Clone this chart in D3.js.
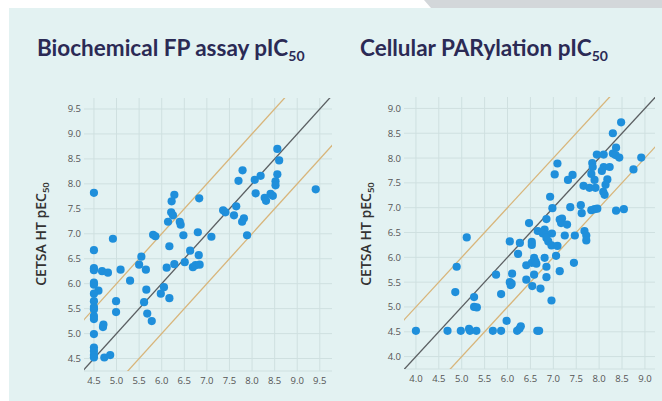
<!DOCTYPE html>
<html lang="en">
    <head>
        <meta charset="utf-8">
        <title>CETSA HT vs pIC50</title>
        <script type="text/javascript" src="https://cdn.jsdelivr.net/npm/d3@7"></script>
        <style type="text/css">
            body { margin: 0; background: #ffffff; }
        </style>
    </head>

    <body>
        <script type="text/javascript">
            // Left panel: biochemical FP assay pIC50 (x) vs CETSA HT pEC50 (y)
            var fpPoints = [
                [4.5,7.82],[8.56,8.70],[8.60,8.47],[8.56,8.19],[8.52,8.05],[8.52,7.97],[7.79,8.27],[7.70,8.06],
                [8.06,8.08],[8.19,8.16],[8.08,7.81],[8.28,7.72],[8.31,7.66],[8.41,7.80],[8.46,7.76],[9.41,7.89],
                [6.28,7.78],[6.22,7.65],[6.83,7.71],[6.21,7.43],[6.25,7.37],[6.14,7.24],[6.40,7.24],[6.42,7.18],
                [7.36,7.47],[7.41,7.43],[7.65,7.55],[7.60,7.37],[7.82,7.31],[7.78,7.24],[5.81,6.98],[5.86,6.95],
                [6.48,6.97],[6.80,7.03],[7.10,6.94],[7.89,6.97],[4.92,6.90],[4.5,6.67],[6.17,6.75],[5.55,6.54],
                [5.50,6.38],[5.65,6.28],[6.11,6.32],[6.28,6.39],[6.51,6.43],[6.63,6.66],[6.82,6.57],[6.69,6.33],
                [6.75,6.37],[6.84,6.38],[4.5,6.31],[4.5,6.27],[4.68,6.25],[4.81,6.22],[5.09,6.28],[5.30,6.06],
                [4.5,6.02],[4.5,5.98],[4.60,5.86],[4.5,5.80],[5.66,5.88],[6.05,5.93],[5.98,5.80],[6.17,5.71],
                [5.61,5.63],[4.5,5.65],[4.99,5.65],[4.5,5.53],[4.5,5.48],[4.99,5.43],[5.68,5.40],[4.5,5.35],
                [4.5,5.29],[5.78,5.25],[4.71,5.18],[4.70,5.13],[4.5,4.99],[4.5,4.72],[4.5,4.65],[4.5,4.57],
                [4.5,4.52],[4.73,4.52],[4.86,4.57]
            ];

            // Right panel: cellular PARylation pIC50 (x) vs CETSA HT pEC50 (y)
            var parPoints = [
                [8.48,8.72],[8.30,8.50],[8.37,8.21],[8.30,8.09],[8.36,8.06],[8.44,8.01],[7.95,8.07],[8.10,8.07],
                [8.92,8.01],[8.75,7.77],[7.85,7.90],[7.86,7.82],[7.09,7.89],[7.03,7.67],[7.42,7.66],[7.32,7.56],
                [7.83,7.68],[8.10,7.82],[8.23,7.82],[8.06,7.74],[8.18,7.57],[7.90,7.56],[8.14,7.46],[7.66,7.44],
                [7.79,7.40],[7.92,7.40],[8.09,7.32],[8.12,7.26],[6.93,7.22],[6.98,6.99],[7.37,7.01],[7.60,7.05],
                [7.62,6.89],[7.83,6.95],[7.90,6.97],[7.96,6.98],[8.37,6.94],[8.54,6.97],[6.47,6.69],[6.85,6.77],
                [7.14,6.76],[7.19,6.78],[7.17,6.69],[7.30,6.66],[6.66,6.53],[6.81,6.56],[6.77,6.48],[6.85,6.46],
                [6.97,6.48],[7.25,6.44],[7.47,6.44],[7.68,6.53],[7.72,6.44],[7.72,6.34],[5.11,6.40],[6.05,6.32],
                [6.27,6.29],[6.53,6.31],[6.53,6.25],[6.89,6.32],[6.96,6.24],[7.09,6.23],[6.85,6.39],[6.23,6.07],
                [6.41,5.84],[6.53,5.89],[6.58,5.99],[6.61,5.92],[6.63,5.87],[6.81,5.99],[7.06,6.03],[6.85,5.81],
                [7.45,5.89],[7.14,5.72],[6.58,5.65],[6.85,5.60],[6.72,5.37],[6.96,5.13],[4.89,5.81],[5.75,5.65],
                [6.10,5.67],[6.05,5.50],[6.09,5.47],[6.07,5.44],[6.41,5.55],[6.54,5.42],[4.86,5.30],[5.86,5.26],
                [5.27,5.20],[5.27,5.00],[5.33,4.99],[5.98,4.72],[4.00,4.52],[4.69,4.52],[4.98,4.52],[5.16,4.56],
                [5.18,4.52],[5.32,4.52],[5.68,4.52],[5.86,4.52],[6.21,4.52],[6.26,4.56],[6.29,4.61],[6.65,4.52],
                [6.69,4.52]
            ];

            var fpTicks = [4.5, 5.0, 5.5, 6.0, 6.5, 7.0, 7.5, 8.0, 8.5, 9.0, 9.5];
            var parTicks = [4.0, 4.5, 5.0, 5.5, 6.0, 6.5, 7.0, 7.5, 8.0, 8.5, 9.0];
            var fpTitle = "Biochemical FP assay pIC";
            var parTitle = "Cellular PARylation pIC";
            var yTitle = "CETSA HT pEC";

            var w = 662;
            var h = 401;
            var bg = "#e3f2f2";
            var gridColor = "#cfe0e0";
            var dotColor = "#1f8fdb";

            var svg = d3.select("body")
                        .append("svg")
                        .attr("width", w)
                        .attr("height", h);

            // page background panel + grey tab top right
            svg.append("rect")
                .attr("x", 9).attr("y", 8)
                .attr("width", w - 9).attr("height", h - 8)
                .attr("fill", bg);
            svg.append("polygon")
                .attr("points", "424,0 662,0 662,8 431,8")
                .attr("fill", "#d3d7da");

            function drawPanel(id, points, ticks, title, box, xDomain, yDomain, titleX, labelX) {
                var xScale = d3.scaleLinear().domain(xDomain).range([box.x0, box.x1]);
                var yScale = d3.scaleLinear().domain(yDomain).range([box.y1, box.y0]);

                var g = svg.append("g");

                // title with subscript
                var t = g.append("text")
                    .attr("x", titleX)
                    .attr("y", 56)
                    .attr("font-family", "Lato, sans-serif")
                    .attr("font-weight", 700)
                    .attr("font-size", "22.5px")
                    .attr("fill", "#2b2a55");
                t.append("tspan").text(title);
                t.append("tspan").attr("dy", 5).attr("font-size", "14px").text("50");

                // grid
                g.selectAll(".vgrid")
                    .data(ticks)
                    .enter()
                    .append("line")
                    .attr("x1", function(d) { return xScale(d); })
                    .attr("x2", function(d) { return xScale(d); })
                    .attr("y1", box.y0)
                    .attr("y2", box.y1)
                    .attr("stroke", gridColor)
                    .attr("stroke-width", 1);
                g.selectAll(".hgrid")
                    .data(ticks)
                    .enter()
                    .append("line")
                    .attr("x1", box.x0)
                    .attr("x2", box.x1)
                    .attr("y1", function(d) { return yScale(d); })
                    .attr("y2", function(d) { return yScale(d); })
                    .attr("stroke", gridColor)
                    .attr("stroke-width", 1);
                g.append("line")
                    .attr("x1", box.x0).attr("x2", box.x1)
                    .attr("y1", box.y1).attr("y2", box.y1)
                    .attr("stroke", gridColor);

                // tick labels
                var fmt = d3.format(".1f");
                g.selectAll(".xlab")
                    .data(ticks)
                    .enter()
                    .append("text")
                    .text(function(d) { return fmt(d); })
                    .attr("x", function(d) { return xScale(d); })
                    .attr("y", box.y1 + 13)
                    .attr("text-anchor", "middle")
                    .attr("font-family", "Open Sans, sans-serif")
                    .attr("font-size", "9.5px")
                    .attr("fill", "#555");
                g.selectAll(".ylab")
                    .data(ticks)
                    .enter()
                    .append("text")
                    .text(function(d) { return fmt(d); })
                    .attr("x", box.x0 - 3)
                    .attr("y", function(d) { return yScale(d) + 3.5; })
                    .attr("text-anchor", "end")
                    .attr("font-family", "Open Sans, sans-serif")
                    .attr("font-size", "9.5px")
                    .attr("fill", "#555");

                // y axis title, rotated
                var yt = g.append("text")
                    .attr("transform", "translate(" + labelX + "," + 234 + ") rotate(-90)")
                    .attr("text-anchor", "middle")
                    .attr("font-family", "Open Sans, sans-serif")
                    .attr("font-weight", 600)
                    .attr("font-size", "14px")
                    .attr("fill", "#333");
                yt.append("tspan").text(yTitle);
                yt.append("tspan").attr("dy", 3).attr("font-size", "9.5px").text("50");

                // clip for reference lines
                svg.append("clipPath")
                    .attr("id", "clip-" + id)
                    .append("rect")
                    .attr("x", box.x0).attr("y", box.y0)
                    .attr("width", box.x1 - box.x0).attr("height", box.y1 - box.y0);

                var lines = [
                    { off: 1, color: "#d8b57a" },
                    { off: -1, color: "#d8b57a" },
                    { off: 0, color: "#5b5f62" }
                ];
                var lo = Math.min(xDomain[0], yDomain[0]) - 1.5;
                var hi = Math.max(xDomain[1], yDomain[1]) + 1.5;
                g.append("g")
                    .attr("clip-path", "url(#clip-" + id + ")")
                    .selectAll("line")
                    .data(lines)
                    .enter()
                    .append("line")
                    .attr("x1", xScale(lo))
                    .attr("x2", xScale(hi))
                    .attr("y1", function(d) { return yScale(lo + d.off); })
                    .attr("y2", function(d) { return yScale(hi + d.off); })
                    .attr("stroke", function(d) { return d.color; })
                    .attr("stroke-width", 1.3);

                // points
                g.selectAll("circle")
                    .data(points)
                    .enter()
                    .append("circle")
                    .attr("cx", function(d) { return xScale(d[0]); })
                    .attr("cy", function(d) { return yScale(d[1]); })
                    .attr("r", 4.1)
                    .attr("fill", dotColor);
            }

            drawPanel("fp", fpPoints, fpTicks, fpTitle,
                { x0: 84, x1: 332, y0: 98, y1: 371 }, [4.28, 9.77], [4.25, 9.72], 37, 46);
            drawPanel("par", parPoints, parTicks, parTitle,
                { x0: 404, x1: 655, y0: 97, y1: 369 }, [3.74, 9.22], [3.75, 9.23], 360, 371);
        </script>
    </body>
</html>
